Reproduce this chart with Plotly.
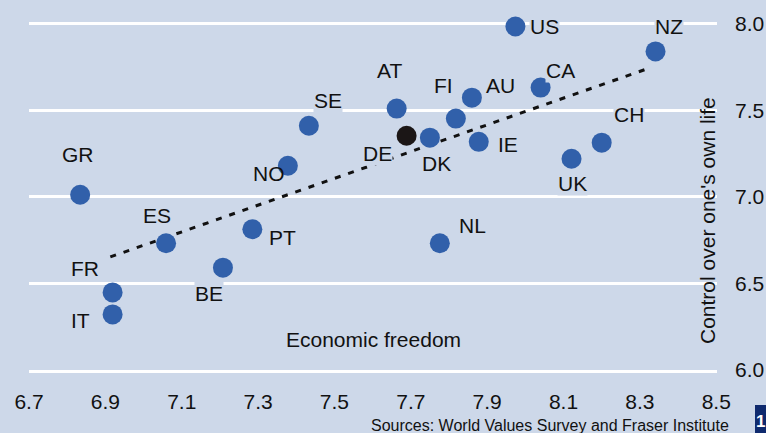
import plotly.graph_objects as go

# ---- data ----
countries = ["US", "NZ", "CA", "AT", "FI", "AU", "SE", "DE", "DK", "IE",
             "CH", "UK", "NO", "GR", "ES", "PT", "BE", "FR", "IT", "NL"]
econ_freedom = [7.974, 8.341, 8.040, 7.663, 7.818, 7.860, 7.433, 7.689, 7.750, 7.878,
                8.200, 8.121, 7.378, 6.834, 7.059, 7.285, 7.208, 6.919, 6.919, 7.776]
control_life = [7.984, 7.840, 7.631, 7.510, 7.452, 7.573, 7.411, 7.353, 7.342, 7.318,
                7.313, 7.220, 7.180, 7.012, 6.732, 6.813, 6.591, 6.448, 6.321, 6.732]
highlight = "DE"
trend_x = [6.913, 8.331]
trend_y = [6.653, 7.749]
x_ticks = [6.7, 6.9, 7.1, 7.3, 7.5, 7.7, 7.9, 8.1, 8.3, 8.5]
y_ticks = [6.0, 6.5, 7.0, 7.5, 8.0]

# ---- style ----
BG = "#cdd8e9"
BLUE = "#3160aa"
DARK = "#1b1616"
FONT = "Liberation Sans, Arial, Helvetica, sans-serif"
FS = 21
# label offsets in pixels (dx, dy up)
label_offsets = {
    "US": (29, 0), "NZ": (13, 25), "CA": (20, 17), "AT": (-7, 38), "FI": (-12, 33),
    "AU": (29, 12), "SE": (19, 25), "DE": (-29, -18), "DK": (7, -26), "IE": (29, -3),
    "CH": (27, 28), "UK": (1, -25), "NO": (-19, -8), "GR": (-2, 40), "ES": (-9, 28),
    "PT": (30, -8), "BE": (-14, -26), "FR": (-28, 24), "IT": (-32, -6), "NL": (33, 18),
}
no_bg_labels = {"NO"}

# plot area in pixels
L, T, W, H = 29, 22, 688, 348
Y_RANGE = [6.0, 8.01]


def px(xp):
    return (xp - L) / W


def py(yp):
    return (T + H - yp) / H


colors = [DARK if c == highlight else BLUE for c in countries]

fig = go.Figure()
fig.add_trace(go.Scatter(
    x=trend_x, y=trend_y, mode="lines",
    line=dict(color="#111111", width=3, dash="6px,8px"),
    hoverinfo="skip", cliponaxis=False,
))
fig.add_trace(go.Scatter(
    x=econ_freedom, y=control_life, mode="markers",
    marker=dict(size=20, color=colors, line=dict(width=0)),
    text=countries, hoverinfo="text", cliponaxis=False,
))

annotations = []
for c, xv, yv in zip(countries, econ_freedom, control_life):
    dx, dy = label_offsets[c]
    annotations.append(dict(
        x=xv, y=yv, xref="x", yref="y", text=c, showarrow=False,
        xshift=dx, yshift=dy, xanchor="center", yanchor="middle",
        font=dict(family=FONT, size=FS, color="#111111"),
        bgcolor="rgba(0,0,0,0)" if c in no_bg_labels else BG, borderpad=0,
    ))

annotations += [
    dict(x=px(373), y=py(339), xref="paper", yref="paper",
         text="Economic freedom", showarrow=False, xanchor="center", yanchor="middle",
         font=dict(family=FONT, size=FS, color="#111111")),
    dict(x=px(707), y=py(221), xref="paper", yref="paper",
         text="Control over one's own life", textangle=-90, showarrow=False,
         xanchor="center", yanchor="middle",
         font=dict(family=FONT, size=FS, color="#111111")),
    dict(x=px(731), y=py(425), xref="paper", yref="paper",
         text="Sources: World Values Survey and Fraser Institute", showarrow=False,
         xanchor="right", yanchor="middle",
         font=dict(family=FONT, size=16, color="#111111")),
    dict(x=px(761), y=py(421), xref="paper", yref="paper",
         text="<b>1</b>", showarrow=False, xanchor="center", yanchor="middle",
         font=dict(family=FONT, size=17, color="white")),
]

shapes = [
    # background patch behind the rotated axis title (covers gridlines)
    dict(type="rect", xref="paper", yref="paper", layer="between",
         x0=px(670), x1=px(722), y0=py(356), y1=py(88),
         fillcolor=BG, line=dict(width=0)),
    # page number box
    dict(type="rect", xref="paper", yref="paper", layer="above",
         x0=px(755), x1=px(770), y0=py(440), y1=py(405),
         fillcolor="#0f2a6e", line=dict(width=0)),
]

fig.update_layout(
    width=766, height=433,
    margin=dict(l=L, r=766 - L - W, t=T, b=433 - T - H, autoexpand=False),
    paper_bgcolor=BG, plot_bgcolor=BG,
    showlegend=False,
    font=dict(family=FONT, size=FS, color="#111111"),
    annotations=annotations, shapes=shapes,
    xaxis=dict(range=[6.7, 8.502], tickvals=x_ticks, tickformat=".1f",
               showgrid=False, zeroline=False, ticks="",
               showline=True, linecolor="white", linewidth=3,
               ticklabelstandoff=11, tickfont=dict(size=FS, color="#111111")),
    yaxis=dict(range=Y_RANGE, tickvals=y_ticks, tickformat=".1f", side="right",
               showgrid=True, gridcolor="white", gridwidth=3,
               zeroline=False, showline=False, ticks="",
               ticklabelstandoff=17, tickfont=dict(size=FS, color="#111111")),
)

fig.write_html("out.html", config={"displayModeBar": False})

# remove the default page margin so the figure sits at the window's top-left
with open("out.html", "r", encoding="utf-8") as f:
    html = f.read()
html = html.replace("<head>", "<head><style>html,body{margin:0;padding:0;background:%s;}</style>" % BG, 1)
with open("out.html", "w", encoding="utf-8") as f:
    f.write(html)
